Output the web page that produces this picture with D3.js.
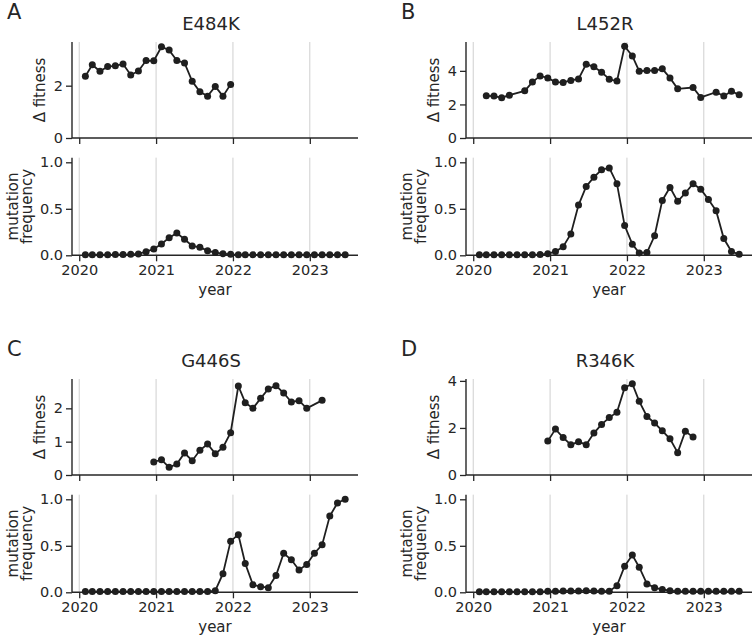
<!DOCTYPE html>
<html>
<head>
<meta charset="utf-8">
<script src="https://cdn.jsdelivr.net/npm/d3@7"></script>
<style>
  html, body { margin: 0; padding: 0; background: #fff; }
  svg { display: block; }
  text { font-family: "DejaVu Sans", sans-serif; fill: #262626; }
</style>
</head>
<body>
<svg id="chart" width="755" height="642"></svg>
<script>
// ---- data ----
const dates = [2020.08, 2020.17, 2020.27, 2020.37, 2020.47, 2020.57, 2020.67, 2020.77, 2020.87, 2020.97,
               2021.07, 2021.17, 2021.27, 2021.37, 2021.47, 2021.57, 2021.67, 2021.77, 2021.87, 2021.97,
               2022.07, 2022.16, 2022.26, 2022.36, 2022.46, 2022.56, 2022.66, 2022.76, 2022.86, 2022.96,
               2023.06, 2023.16, 2023.26, 2023.36, 2023.46];
const yearTicks = [2020, 2021, 2022, 2023];
const mutations = ["E484K", "L452R", "G446S", "R346K"];
const panelLetters = ["A", "B", "C", "D"];

const fitE484K = [2.36, 2.80, 2.55, 2.73, 2.76, 2.83, 2.41, 2.56, 2.96, 2.95, 3.49, 3.36, 2.96, 2.87, 2.17, 1.77, 1.60, 1.97, 1.60, 2.05,
                  null, null, null, null, null, null, null, null, null, null, null, null, null, null, null];
const freqE484K = [0.005, 0.005, 0.005, 0.005, 0.008, 0.008, 0.01, 0.015, 0.039, 0.068, 0.122, 0.19, 0.24, 0.172, 0.10, 0.086, 0.05, 0.029, 0.018, 0.011,
                   0.005, 0.005, 0.005, 0.005, 0.005, 0.005, 0.005, 0.005, 0.005, 0.005, 0.005, 0.005, 0.005, 0.005, 0.005];

const fitL452R = [null, 2.51, 2.50, 2.40, 2.55, null, 2.81, 3.33, 3.70, 3.58, 3.33, 3.31, 3.43, 3.52, 4.40, 4.24, 3.92, 3.50, 3.39, 5.47,
                  4.89, 3.98, 4.02, 4.02, 4.12, 3.58, 2.93, null, 3.01, 2.42, null, 2.73, 2.50, 2.79, 2.57];
const freqL452R = [0.005, 0.005, 0.005, 0.005, 0.005, 0.005, 0.005, 0.005, 0.008, 0.018, 0.04, 0.093, 0.23, 0.54, 0.74, 0.84, 0.92, 0.94, 0.77, 0.32,
                   0.12, 0.025, 0.03, 0.21, 0.59, 0.73, 0.58, 0.67, 0.77, 0.71, 0.60, 0.48, 0.18, 0.04, 0.01];

const fitG446S = [null, null, null, null, null, null, null, null, null, 0.39, 0.46, 0.23, 0.33, 0.66, 0.43, 0.74, 0.93, 0.64, 0.83, 1.27,
                  2.67, 2.17, 2.00, 2.30, 2.58, 2.68, 2.46, 2.19, 2.23, 2.00, null, 2.24, null, null, null];
const freqG446S = [0.008, 0.008, 0.008, 0.008, 0.008, 0.008, 0.008, 0.008, 0.008, 0.008, 0.008, 0.008, 0.008, 0.008, 0.008, 0.008, 0.008, 0.018, 0.20, 0.55,
                   0.62, 0.31, 0.08, 0.06, 0.05, 0.18, 0.42, 0.35, 0.24, 0.30, 0.42, 0.51, 0.82, 0.96, 1.00];

const fitR346K = [null, null, null, null, null, null, null, null, null, 1.44, 1.95, 1.59, 1.29, 1.41, 1.29, 1.78, 2.15, 2.44, 2.67, 3.71,
                  3.88, 3.13, 2.49, 2.21, 1.88, 1.54, 0.95, 1.86, 1.61, null, null, null, null, null, null];
const freqR346K = [0.005, 0.005, 0.005, 0.005, 0.005, 0.005, 0.005, 0.005, 0.005, 0.01, 0.01, 0.015, 0.015, 0.015, 0.018, 0.015, 0.012, 0.012, 0.07, 0.28,
                   0.40, 0.27, 0.09, 0.05, 0.03, 0.018, 0.01, 0.01, 0.01, 0.01, 0.01, 0.01, 0.01, 0.01, 0.01];

const fitTicks = [[0, 2], [0, 2, 4], [0, 1, 2], [0, 2, 4]];
const fitMax = [3.67, 5.72, 2.88, 4.08];
const freqTicks = [0, 0.5, 1.0];
const fitSeries = [fitE484K, fitL452R, fitG446S, fitR346K];
const freqSeries = [freqE484K, freqL452R, freqG446S, freqR346K];

// ---- layout ----
const svg = d3.select("#chart");
const ink = "#262626";
const panelLeft = [72, 466, 72, 466];
const panelTop = [0, 0, 337, 337];
const axW = 286;
const xDomain = [2019.906, 2023.627];

function drawAxes(g, x, y, top, bottom, left, series, yticks, yfmt, showXLabels) {
  g.selectAll(null).data(yearTicks).enter().append("line")
    .attr("x1", d => x(d)).attr("x2", d => x(d))
    .attr("y1", top).attr("y2", bottom)
    .attr("stroke", "#cfcfcf").attr("stroke-width", 1);

  const yAxis = d3.axisLeft(y).tickValues(yticks).tickFormat(yfmt).tickSize(6).tickPadding(3);
  const ya = g.append("g").attr("transform", `translate(${left},0)`).call(yAxis);
  ya.select(".domain").remove();
  ya.append("line").attr("x1", 0).attr("x2", 0).attr("y1", top).attr("y2", bottom)
    .attr("stroke", ink).attr("stroke-width", 1.4);

  const xAxis = d3.axisBottom(x).tickValues(yearTicks).tickFormat(showXLabels ? d3.format("d") : () => "")
    .tickSize(6).tickPadding(3);
  const xa = g.append("g").attr("transform", `translate(0,${bottom})`).call(xAxis);
  xa.select(".domain").remove();
  xa.append("line").attr("x1", x.range()[0]).attr("x2", x.range()[1]).attr("y1", 0).attr("y2", 0)
    .attr("stroke", ink).attr("stroke-width", 1.4);

  [ya, xa].forEach(a => {
    a.selectAll(".tick line").attr("stroke", ink).attr("stroke-width", 1.3);
    a.selectAll(".tick text").attr("font-size", 14.5).attr("fill", ink)
      .attr("font-family", "DejaVu Sans, sans-serif");
  });

  const pts = dates.map((d, i) => ({ t: d, v: series[i] })).filter(p => p.v !== null);
  const line = d3.line().x(p => x(p.t)).y(p => y(p.v));
  g.append("path").datum(pts).attr("d", line)
    .attr("fill", "none").attr("stroke", "#1f1f1f").attr("stroke-width", 1.8);
  g.selectAll(null).data(pts).enter().append("circle")
    .attr("cx", p => x(p.t)).attr("cy", p => y(p.v)).attr("r", 3.5)
    .attr("fill", "#1f1f1f");
}

for (let k = 0; k < 4; k++) {
  const left = panelLeft[k], off = panelTop[k];
  const g = svg.append("g");
  const x = d3.scaleLinear().domain(xDomain).range([left, left + axW]);

  const fTop = off + 42, fBot = off + 138;
  const yF = d3.scaleLinear().domain([0, fitMax[k]]).range([fBot, fTop]);
  drawAxes(g, x, yF, fTop, fBot, left, fitSeries[k], fitTicks[k], d3.format("d"), false);

  const qBot = off + 255.3, qTop = qBot - 1.05 * 93;
  const yQ = d3.scaleLinear().domain([0, 1.05]).range([qBot, qTop]);
  drawAxes(g, x, yQ, qTop, qBot, left, freqSeries[k], freqTicks, d3.format(".1f"), true);

  g.append("text").attr("x", left + 139).attr("y", off + 29.5)
    .attr("text-anchor", "middle").attr("font-size", 18).text(mutations[k]);

  g.append("text").attr("x", left - 65).attr("y", off + 18.5)
    .attr("font-family", "Liberation Sans, Arial, sans-serif")
    .attr("font-size", 21).text(panelLetters[k]);

  g.append("text").attr("transform", `translate(${left - 32},${(fTop + fBot) / 2}) rotate(-90)`)
    .attr("text-anchor", "middle").attr("dy", "0.35em").attr("font-size", 15).text("Δ fitness");
  const lab = g.append("text").attr("transform", `translate(${left - 59},${(qTop + qBot) / 2}) rotate(-90)`)
    .attr("text-anchor", "middle").attr("font-size", 15);
  lab.append("tspan").attr("x", 0).attr("dy", "0.35em").text("mutation");
  lab.append("tspan").attr("x", 0).attr("dy", "0.9em").text("frequency");

  g.append("text").attr("x", left + 143).attr("y", qBot + 40)
    .attr("text-anchor", "middle").attr("font-size", 15).text("year");
}
</script>
</body>
</html>
